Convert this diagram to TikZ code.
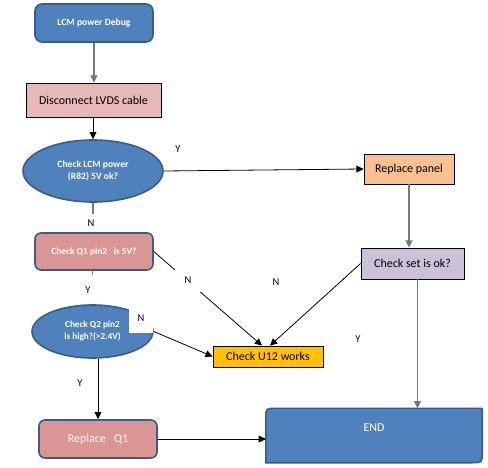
\documentclass[tikz,border=0pt]{standalone}
\usepackage{fontspec}
\setmainfont{Carlito}
\usetikzlibrary{shapes.geometric,arrows.meta,calc}

\definecolor{boxblue}{RGB}{79,129,189}
\definecolor{edgeblue}{RGB}{56,93,138}
\definecolor{rosepink}{RGB}{230,185,184}
\definecolor{darkpink}{RGB}{217,150,148}
\definecolor{peach}{RGB}{250,192,144}
\definecolor{lavender}{RGB}{204,193,218}
\definecolor{gold}{RGB}{255,192,0}
\definecolor{linegray}{RGB}{120,120,120}

\tikzset{
  bluebox/.style={draw=edgeblue, line width=1.6pt, fill=boxblue, text=white, font=\fontsize{9.6}{11.5}\selectfont\bfseries, inner sep=0.75pt},
  pinkbox/.style={draw=edgeblue, line width=1.6pt, fill=darkpink, text=white, rounded corners=6pt, inner sep=0.75pt},
  plainbox/.style={draw=black, line width=0.8pt, font=\fontsize{12}{14}\selectfont, inner sep=0.75pt},
  yesno/.style={fill=white, inner sep=0.75pt, font=\fontsize{10.5}{12}\selectfont},
  tip/.style={-{Triangle[length=7.14pt,width=6.86pt]}},
  bline/.style={draw=black, line width=0.8pt},
  gline/.style={draw=linegray, line width=1.6pt},
}

\begin{document}
\begin{tikzpicture}[x=1pt,y=1pt,yscale=-1,xscale=1]
\useasboundingbox (0,0) rectangle (488,468);

% Boxes
\node [bluebox, rounded corners=7pt, minimum width=118, minimum height=38] (debug) at (94,23) {LCM power Debug};
\node [plainbox, fill=rosepink, minimum width=135, minimum height=34] (lvds) at (93.5,100) {Disconnect LVDS cable};
\node [bluebox, ellipse, minimum width=140, minimum height=62, align=center] (lcm) at (93,171) {Check LCM power\\(R82) 5V ok?};
\node [plainbox, fill=peach, minimum width=90, minimum height=30] (panel) at (409,169) {Replace panel};
\node [pinkbox, minimum width=118, minimum height=37, font=\fontsize{9.4}{11}\selectfont\bfseries] (q1) at (94,251.5) {Check Q1 pin2~~ is 5V?};
\node [bluebox, ellipse, minimum width=121, minimum height=53, align=center, font=\fontsize{9.2}{12}\selectfont\bfseries] (q2) at (92.5,331.5) {Check Q2 pin2\\is high?(>2.4V)};
\node [plainbox, fill=gold, minimum width=110, minimum height=21] (u12) at (268,356.5) {Check U12 works};
\node [plainbox, fill=lavender, minimum width=103, minimum height=31] (check) at (412.5,263.5) {Check set is ok?};
\node [pinkbox, minimum width=118, minimum height=38, font=\fontsize{12}{14}\selectfont] (rq1) at (98,439) {Replace~~ Q1};
\node [minimum width=216, minimum height=54, inner sep=0pt] (end) at (374,435.5) {};

% END shape
\draw [draw=edgeblue, line width=1.6pt, fill=boxblue] (end.south west) -- ($(end.north west)!10pt!(end.south west)$) .. controls (end.north west) .. ($(end.north west)!10pt!(end.north east)$) -- ($(end.north east)!2pt!(end.north west)$) .. controls (end.north east) .. ($(end.north east)!2pt!(end.south east)$) -- ($(end.south east)!10pt!(end.north east)$) .. controls (end.south east) .. ($(end.south east)!10pt!(end.south west)$) -- cycle;
\node [text=white, font=\fontsize{12}{14}\selectfont, inner sep=0.75pt] (endtext) at (374,428) {END};

% Connectors
\draw [gline, tip] (debug.south) -- (debug.south |- lvds.north);
\draw [bline, tip] (lvds.south -| lcm.north) -- (lcm.north);
\draw [bline, tip] (lcm.east) -- (panel.west);
\draw [gline] (lcm.south) -- (lcm.south |- q1.north);
\draw [gline] (q1.south -| q2.north) -- (q2.north);
\draw [bline, tip] (q1.east) -- ([xshift=-6pt]u12.north);
\draw [bline, tip] (check.west) -- ([xshift=2pt]u12.north);
\draw [bline, tip] (q2.east) -- (u12.west);
\draw [bline, tip] (q2.south -| rq1.north) -- (rq1.north);
\draw [bline, tip] (rq1.east) -- (rq1.east -| end.west);
\draw [gline, tip] (panel.south) -- (panel.south |- check.north);
\draw [gline, tip] ([xshift=5pt]check.south) -- ([xshift=5pt]check.south |- end.north);

% Text Node
\node [yesno] (ylcm) at (178,149) {Y};
\node [yesno, minimum width=16, minimum height=18] (nlcm) at (91,223.5) {N};
\node [yesno, minimum width=18, minimum height=29] (yq1) at (88,290) {Y};
\node [yesno, minimum width=26, minimum height=24] (nq1) at (188,280) {N};
\node [yesno] (nset) at (276,282) {N};
\node [yesno, minimum width=24, minimum height=30, anchor=south] (nq2) at (141,333) {\raisebox{-6pt}{N}};
\node [yesno] (yq2) at (80,383) {Y};
\node [yesno] (yset) at (358,339) {Y};

\end{tikzpicture}
\end{document}
